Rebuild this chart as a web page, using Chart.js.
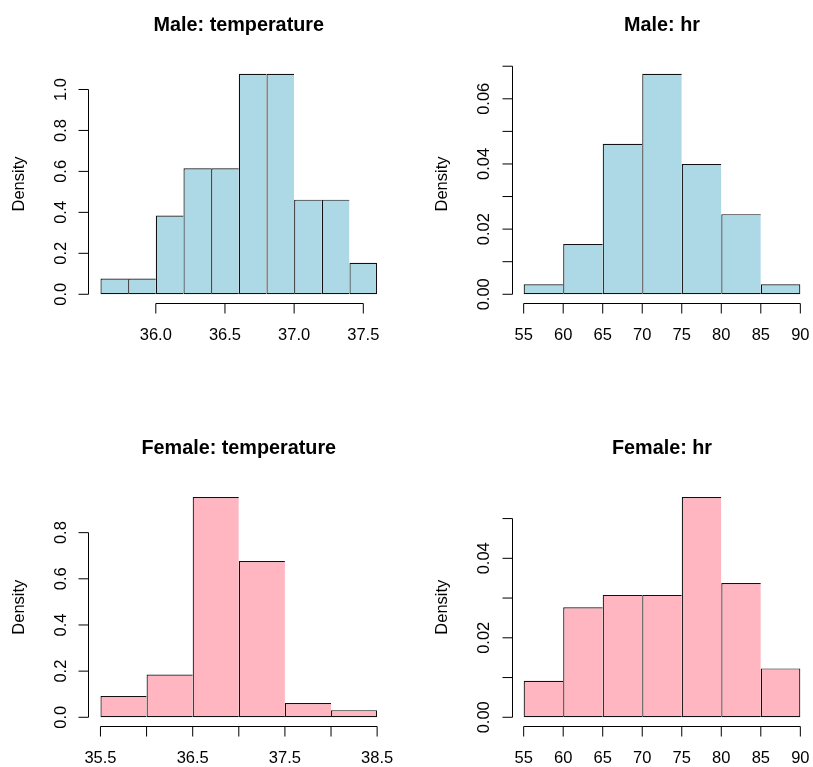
<!DOCTYPE html>
<html>
<head>
<meta charset="utf-8">
<title>Histograms by sex</title>
<script src="https://cdn.jsdelivr.net/npm/chart.js@4.4.0/dist/chart.umd.min.js"></script>
<style>
    html, body { margin: 0; padding: 0; background: #fff; }
    #wrap { position: relative; width: 813px; height: 767px; overflow: hidden; }
    #wrap canvas { position: absolute; }
</style>
</head>
<body>
<div id="wrap">
    <canvas id="maleTemp" width="406" height="383" style="left:0;top:0"></canvas>
    <canvas id="maleHr" width="407" height="383" style="left:406px;top:0"></canvas>
    <canvas id="femaleTemp" width="406" height="384" style="left:0;top:383px"></canvas>
    <canvas id="femaleHr" width="407" height="384" style="left:406px;top:383px"></canvas>
</div>
<script>
// bin edges and densities
const maleTempBreaks = [35.6, 35.8, 36.0, 36.2, 36.4, 36.6, 36.8, 37.0, 37.2, 37.4, 37.6];
const maleTempDensity = [0.077, 0.077, 0.385, 0.615, 0.615, 1.077, 1.077, 0.462, 0.462, 0.154];

const maleHrBreaks = [55, 60, 65, 70, 75, 80, 85, 90];
const maleHrDensity = [0.0031, 0.0154, 0.0462, 0.0677, 0.0400, 0.0246, 0.0031];

const femaleTempBreaks = [35.5, 36.0, 36.5, 37.0, 37.5, 38.0, 38.5];
const femaleTempDensity = [0.092, 0.185, 0.954, 0.677, 0.062, 0.031];

const femaleHrBreaks = [55, 60, 65, 70, 75, 80, 85, 90];
const femaleHrDensity = [0.0092, 0.0277, 0.0308, 0.0308, 0.0554, 0.0338, 0.0123];

// tick positions + labels ('' = tick mark only, R drops those labels)
const maleTempXTicks = [36.0, 36.5, 37.0, 37.5];
const maleTempXLabels = ['36.0', '36.5', '37.0', '37.5'];
const maleTempYTicks = [0, 0.2, 0.4, 0.6, 0.8, 1.0];
const maleTempYLabels = ['0.0', '0.2', '0.4', '0.6', '0.8', '1.0'];

const hrXTicks = [55, 60, 65, 70, 75, 80, 85, 90];
const hrXLabels = ['55', '60', '65', '70', '75', '80', '85', '90'];
const maleHrYTicks = [0, 0.01, 0.02, 0.03, 0.04, 0.05, 0.06, 0.07];
const maleHrYLabels = ['0.00', '', '0.02', '', '0.04', '', '0.06', ''];

const femaleTempXTicks = [35.5, 36.0, 36.5, 37.0, 37.5, 38.0, 38.5];
const femaleTempXLabels = ['35.5', '', '36.5', '', '37.5', '', '38.5'];
const femaleTempYTicks = [0, 0.2, 0.4, 0.6, 0.8];
const femaleTempYLabels = ['0.0', '0.2', '0.4', '0.6', '0.8'];

const femaleHrYTicks = [0, 0.01, 0.02, 0.03, 0.04, 0.05];
const femaleHrYLabels = ['0.00', '', '0.02', '', '0.04', ''];

const FONT = '"Liberation Sans", Arial, Helvetica, sans-serif';

// draws base-R style axes (line only from first to last tick), title and ylab
const rAxes = {
    id: 'rAxes',
    afterDraw(chart, args, opts) {
        const { ctx, chartArea } = chart;
        const x = chart.scales.x;
        const y = chart.scales.y;

        ctx.save();
        ctx.strokeStyle = '#000';
        ctx.fillStyle = '#000';
        ctx.lineWidth = 1;

        // x axis
        const xs = opts.xTicks.map(v => x.getPixelForValue(v));
        const by = Math.round(chartArea.bottom) + 0.5;
        ctx.beginPath();
        ctx.moveTo(xs[0], by);
        ctx.lineTo(xs[xs.length - 1], by);
        xs.forEach(px => {
            ctx.moveTo(px, by);
            ctx.lineTo(px, by + 10);
        });
        ctx.stroke();

        ctx.font = '16.5px ' + FONT;
        ctx.textAlign = 'center';
        ctx.textBaseline = 'alphabetic';
        opts.xLabels.forEach((t, i) => {
            if (t) ctx.fillText(t, xs[i], chartArea.bottom + 37.2);
        });

        // y axis
        const ys = opts.yTicks.map(v => y.getPixelForValue(v));
        const lx = Math.round(chartArea.left) - 0.5;
        ctx.beginPath();
        ctx.moveTo(lx, ys[0]);
        ctx.lineTo(lx, ys[ys.length - 1]);
        ys.forEach(py => {
            ctx.moveTo(lx, py);
            ctx.lineTo(lx - 10, py);
        });
        ctx.stroke();

        opts.yLabels.forEach((t, i) => {
            if (!t) return;
            ctx.save();
            ctx.translate(chartArea.left - 23.5, ys[i]);
            ctx.rotate(-Math.PI / 2);
            ctx.fillText(t, 0, 0);
            ctx.restore();
        });

        // ylab
        ctx.save();
        ctx.translate(chartArea.left - 65.4, (chartArea.top + chartArea.bottom) / 2);
        ctx.rotate(-Math.PI / 2);
        ctx.fillText('Density', 0, 0);
        ctx.restore();

        // main title
        ctx.font = 'bold 19.8px ' + FONT;
        ctx.fillText(opts.title, (chartArea.left + chartArea.right) / 2, chartArea.top - 33.9);

        ctx.restore();
    }
};

function makeHist(id, title, breaks, density, color, xTicks, xLabels, yTicks, yLabels, padding) {
    const n = density.length;
    const points = density.map((d, i) => ({ x: (breaks[i] + breaks[i + 1]) / 2, y: d }));

    // R pads the range by 4% on each side
    const xSpan = breaks[n] - breaks[0];
    const yMax = Math.max(...density);

    return new Chart(document.getElementById(id), {
        type: 'bar',
        data: {
            datasets: [{
                data: points,
                backgroundColor: color,
                borderColor: '#111',
                borderWidth: (c) => ({ top: 1.2, bottom: 1.2, left: 1.2, right: c.dataIndex === n - 1 ? 1.2 : 0 }),
                borderSkipped: false,
                inflateAmount: 0,
                barPercentage: 1,
                categoryPercentage: 1
            }]
        },
        options: {
            responsive: false,
            animation: false,
            devicePixelRatio: 1,
            layout: { padding: padding },
            scales: {
                x: {
                    type: 'linear',
                    display: false,
                    offset: false,
                    grid: { offset: false },
                    min: breaks[0] - 0.04 * xSpan,
                    max: breaks[n] + 0.04 * xSpan,
                    afterBuildTicks: (scale) => {
                        scale.ticks = xTicks.map(v => ({ value: v }));
                    }
                },
                y: {
                    type: 'linear',
                    display: false,
                    min: -0.04 * yMax,
                    max: 1.04 * yMax
                }
            },
            plugins: {
                legend: { display: false },
                tooltip: { enabled: false },
                rAxes: { title, xTicks, xLabels, yTicks, yLabels }
            }
        },
        plugins: [rAxes]
    });
}

const blue = '#ADD8E6';
const pink = '#FFB6C1';

makeHist('maleTemp', 'Male: temperature', maleTempBreaks, maleTempDensity, blue,
    maleTempXTicks, maleTempXLabels, maleTempYTicks, maleTempYLabels,
    { left: 89.4, top: 64.9, right: 17.8, bottom: 79.9 });

makeHist('maleHr', 'Male: hr', maleHrBreaks, maleHrDensity, blue,
    hrXTicks, hrXLabels, maleHrYTicks, maleHrYLabels,
    { left: 106.6, top: 64.9, right: 1.6, bottom: 79.9 });

makeHist('femaleTemp', 'Female: temperature', femaleTempBreaks, femaleTempDensity, pink,
    femaleTempXTicks, femaleTempXLabels, femaleTempYTicks, femaleTempYLabels,
    { left: 89.4, top: 105.3, right: 17.8, bottom: 40.9 });

makeHist('femaleHr', 'Female: hr', femaleHrBreaks, femaleHrDensity, pink,
    hrXTicks, hrXLabels, femaleHrYTicks, femaleHrYLabels,
    { left: 106.6, top: 105.3, right: 1.6, bottom: 40.9 });
</script>
</body>
</html>
